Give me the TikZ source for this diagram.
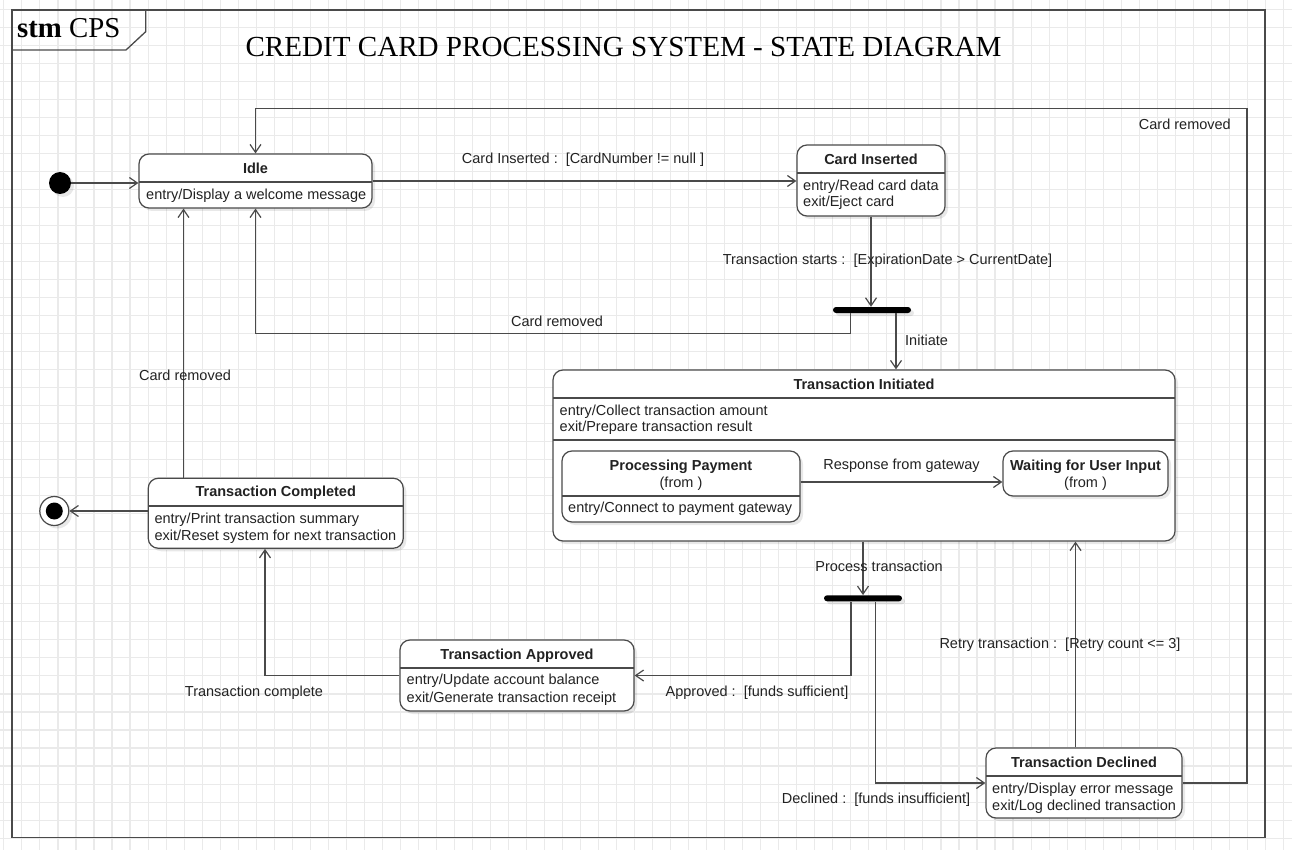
\documentclass[tikz,border=0pt]{standalone}
\usepackage{fontspec}
\setmainfont{Liberation Sans}
\newfontfamily\serifx{Liberation Serif}
\usetikzlibrary{arrows.meta,shadows}
\definecolor{lc}{HTML}{4A4A4A}
\definecolor{tc}{HTML}{222222}
\definecolor{gridc}{HTML}{EAEAEA}
\newcommand{\lblfont}{\fontsize{14.5}{17.3}\selectfont}
\begin{document}
\begin{tikzpicture}[x=1pt,y=-1pt,
  shad/.style={drop shadow={shadow xshift=3pt,shadow yshift=-3pt,opacity=0.09,fill=black}},
  stbox/.style={draw=lc,line width=1.2pt,rounded corners=10pt,fill=white,inner sep=0pt,shad},
  divline/.style={draw=lc,line width=1.2pt},
  ttl/.style={font=\lblfont\bfseries,text=tc,inner sep=0pt,anchor=base},
  txt/.style={font=\lblfont,text=tc,inner sep=0pt,anchor=base west},
  lab/.style={font=\lblfont,text=tc,inner sep=0pt,anchor=base},
  forkbar/.style={fill=black,draw=none,rounded corners=3pt,minimum width=78pt,minimum height=6pt,inner sep=0pt,shad},
  arr/.style={draw=lc,line width=1.2pt,-{Straight Barb[length=8pt,width=11pt,line width=1.2pt]}},
  gridl/.style={draw=gridc,line width=1.1pt},
  frame/.style={draw=lc,line width=1.3pt}
]
\useasboundingbox (0,0) rectangle (1292,850);
\fill[white] (0,0) rectangle (1292,850);
% grid
\foreach \i in {0,...,71} \draw[gridl] ({3.9+18.02*\i},0) -- ({3.9+18.02*\i},850);
\foreach \j in {0,...,47} \draw[gridl] (0,{9.2+18.02*\j}) -- (1292,{9.2+18.02*\j});

% frame
\draw[frame] (12,10) rectangle (1265,837.5);
\draw[frame] (12,50) -- (126,50) -- (145.7,31.7) -- (145.7,10);
\node[inner sep=0pt,anchor=base west,font=\serifx\fontsize{28.8}{30}\selectfont] (stm) at (17,38) {\textbf{stm} CPS};
\node[inner sep=0pt,anchor=base,font=\serifx\fontsize{29.1}{30}\selectfont] (title) at (623.5,56.5) {CREDIT CARD PROCESSING SYSTEM - STATE DIAGRAM};

% pseudo states
\node[circle,fill=black,minimum size=22pt,inner sep=0pt,shad] (init) at (60,183) {};
\node[circle,draw=lc,line width=1.2pt,fill=white,minimum size=29pt,inner sep=0pt,shad] (final) at (54.3,511) {};
\node[circle,fill=black,minimum size=17pt,inner sep=0pt] (finalin) at (54.3,511) {};
\node[forkbar] (fork1) at (872,310) {};
\node[forkbar] (fork2) at (863,598.3) {};

% Idle
\node[stbox,minimum width=233pt,minimum height=54pt] (idle) at (255.5,181) {};
\draw[divline] (139,182) -- (372,182);
\node[ttl] (idle-t) at (255.5,173.5) {Idle};
\node[txt] (idle-e) at (146,199.2) {entry/Display a welcome message};

% Card Inserted
\node[stbox,minimum width=148pt,minimum height=71pt] (card) at (871,180.5) {};
\draw[divline] (797,173) -- (945,173);
\node[ttl] (card-t) at (871,164.5) {Card Inserted};
\node[txt] (card-e1) at (803,190.2) {entry/Read card data};
\node[txt] (card-e2) at (803,206.9) {exit/Eject card};

% Transaction Initiated
\node[stbox,minimum width=622pt,minimum height=171pt] (ti) at (864,455.5) {};
\draw[divline] (553,398) -- (1175,398);
\draw[divline] (553,440) -- (1175,440);
\node[ttl] (ti-t) at (864,389.2) {Transaction Initiated};
\node[txt] (ti-e1) at (559.5,415.2) {entry/Collect transaction amount};
\node[txt] (ti-e2) at (559.5,431.9) {exit/Prepare transaction result};

% Processing Payment
\node[stbox,minimum width=238pt,minimum height=71pt] (pp) at (681,486.5) {};
\draw[divline] (562,496) -- (800,496);
\node[ttl] (pp-t) at (681,470.2) {Processing Payment};
\node[lab] (pp-f) at (681,487.5) {(from )};
\node[txt] (pp-e) at (568,512.9) {entry/Connect to payment gateway};

% Waiting for User Input
\node[stbox,minimum width=165pt,minimum height=45pt] (wait) at (1085.5,473.5) {};
\node[ttl] (wait-t) at (1085.5,470.2) {Waiting for User Input};
\node[lab] (wait-f) at (1085.5,487.5) {(from )};

% Transaction Completed
\node[stbox,minimum width=255pt,minimum height=70pt] (completed) at (275.75,513.25) {};
\draw[divline] (148.25,506) -- (403.25,506);
\node[ttl] (comp-t) at (275.75,496.9) {Transaction Completed};
\node[txt] (comp-e1) at (154.3,523.5) {entry/Print transaction summary};
\node[txt] (comp-e2) at (154.3,540.2) {exit/Reset system for next transaction};

% Transaction Approved
\node[stbox,minimum width=234pt,minimum height=71pt] (approved) at (517,675.5) {};
\draw[divline] (400,668) -- (634,668);
\node[ttl] (app-t) at (517,659.2) {Transaction Approved};
\node[txt] (app-e1) at (406.5,684.7) {entry/Update account balance};
\node[txt] (app-e2) at (406.5,702.2) {exit/Generate transaction receipt};

% Transaction Declined
\node[stbox,minimum width=196pt,minimum height=70pt] (declined) at (1084,783) {};
\draw[divline] (986,776) -- (1182,776);
\node[ttl] (dec-t) at (1084,767.2) {Transaction Declined};
\node[txt] (dec-e1) at (992,793.5) {entry/Display error message};
\node[txt] (dec-e2) at (992,810.2) {exit/Log declined transaction};

% connectors
\draw[arr] (init) -- (init -| idle.west);
\draw[arr] (idle.east) -- (idle.east -| card.west);
\draw[arr] (card.south) -- (card.south |- fork1.north);
\draw[arr] ([xshift=-21.3pt]fork1.south) -- ++(0,20) -| (idle.south);
\draw[arr] ([xshift=24pt]fork1.south) -- ([xshift=24pt]fork1.south |- ti.north);
\draw[arr] ([yshift=4.5pt]pp.east) -- ([yshift=4.5pt]pp.east -| wait.west);
\draw[arr] (ti.south -| fork2.north) -- (fork2.north);
\draw[arr] ([xshift=-12pt]fork2.south) |- (approved.east);
\draw[arr] ([xshift=12.3pt]fork2.south) |- (declined.west);
\draw[arr] (approved.west) -| ([xshift=-10.75pt]completed.south);
\draw[arr] ([xshift=-92.25pt]completed.north) -- ([xshift=-92.25pt]completed.north |- idle.south);
\draw[arr] (completed.west |- final) -- (final);
\draw[arr] ([xshift=-8.5pt]declined.north) -- ([xshift=-8.5pt]declined.north |- ti.south);
\coordinate (crc) at (1247,108.5);
\draw[arr] (declined.east) -| (crc) -| (idle.north);

% labels
\node[lab] (l-ci) at (583,163.2) {Card Inserted :\ \ [CardNumber != null ]};
\node[lab] (l-ts) at (887.5,264.2) {Transaction starts :\ \ [ExpirationDate > CurrentDate]};
\node[lab] (l-cr1) at (557,326.2) {Card removed};
\node[lab,anchor=base west] (l-in) at (905,345.2) {Initiate};
\node[lab] (l-rg) at (901.5,469.2) {Response from gateway};
\node[lab] (l-pt) at (879,571.2) {Process transaction};
\node[lab] (l-ap) at (757,696.2) {Approved :\ \ [funds sufficient]};
\node[lab] (l-tc) at (254,696.2) {Transaction complete};
\node[lab] (l-cr2) at (185,380.2) {Card removed};
\node[lab] (l-rt) at (1060,648.2) {Retry transaction :\ \ [Retry count <= 3]};
\node[lab] (l-de) at (876,803.2) {Declined :\ \ [funds insufficient]};
\node[lab,anchor=base east] (l-cr3) at (1231,129.2) {Card removed};
\end{tikzpicture}
\end{document}
